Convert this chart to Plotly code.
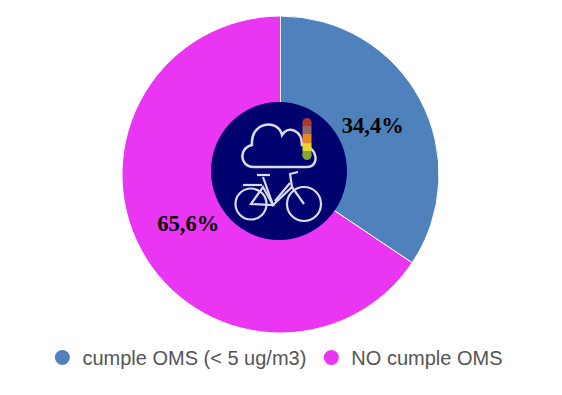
import plotly.graph_objects as go

labels = ["cumple OMS (< 5 ug/m3)", "NO cumple OMS"]
values = [34.4, 65.6]
colors = ["#4F81BD", "#EA36F2"]

W, H = 562, 395
cx, cy, r = 280.5, 174.5, 158.5

fig = go.Figure()
fig.add_trace(go.Pie(
    labels=labels, values=values, sort=False, direction="clockwise", rotation=0,
    hole=0.32, showlegend=False,
    domain=dict(x=[(cx - r) / W, (cx + r) / W], y=[1 - (cy + r) / H, 1 - (cy - r) / H]),
    marker=dict(colors=colors, line=dict(color="#FFFFFF", width=1)),
    texttemplate="%{value:.1f}%", textposition="inside", insidetextorientation="horizontal",
    textfont=dict(family="Liberation Serif", size=22.5, color="#000000", weight="bold"),
    hoverinfo="label+percent",
))
for name, col in zip(labels, colors):
    fig.add_trace(go.Scatter(
        x=[None], y=[None], mode="markers", name=name,
        marker=dict(symbol="circle", size=15, color=col),
    ))

# Decorative centre icon, in pixel units of the hidden axes
LINE = dict(color="#DADAEE", width=2.2)
shapes = [dict(type="circle", x0=211, x1=347, y0=102, y1=240, fillcolor="#00006E", line=dict(width=0))]
shapes.append(dict(type="path", line=dict(color="#DADAEE", width=2.5),
    path="M253,167 C240,167 238,148 252,145 C250,122 278,118 282,135 C288,125 302,130 302,145 C318,146 320,167 307,167 Z"))
shapes.append(dict(type="circle", x0=302.5, x1=311.5, y0=118, y1=127, fillcolor="#B5342A", line=dict(width=0)))
shapes.append(dict(type="circle", x0=302.5, x1=311.5, y0=151, y1=160, fillcolor="#7FA832", line=dict(width=0)))
for y0, y1, c in [(122, 126, "#B5342A"), (126, 134, "#8C6A6A"), (134, 143, "#E8862A"),
                  (143, 151, "#E8D42A"), (151, 156, "#7FA832")]:
    shapes.append(dict(type="rect", x0=302.5, x1=311.5, y0=y0, y1=y1, fillcolor=c, line=dict(width=0)))
for wx, wy, wr in [(251, 204, 15.5), (304, 204, 17)]:
    shapes.append(dict(type="circle", x0=wx - wr, x1=wx + wr, y0=wy - wr, y1=wy + wr, line=LINE))
for p in [
    "M251,204 L263,187 L273,205 Z",
    "M263,177 L273,205 L292,187 L304,204",
    "M290,183 L275,201",
    "M292,187 L290,174 L298,172",
    "M257,175 L270,175",
    "M243,185 L262,185",
    "M269,207 A4,4 0 1 0 277,204 A4,4 0 1 0 269,207",
]:
    shapes.append(dict(type="path", path=p, line=LINE))

fig.update_layout(
    width=W, height=H, margin=dict(l=0, r=0, t=0, b=0),
    paper_bgcolor="#FFFFFF", plot_bgcolor="rgba(0,0,0,0)",
    separators=",.",
    xaxis=dict(visible=False, range=[0, W], domain=[0, 1], fixedrange=True),
    yaxis=dict(visible=False, range=[H, 0], domain=[0, 1], fixedrange=True),
    shapes=[dict(s, xref="x", yref="y", layer="above") for s in shapes],
    legend=dict(orientation="h", x=0.49, xanchor="center", y=1 - 357.5 / H, yanchor="middle",
                font=dict(family="Liberation Sans", size=20, color="#555555"),
                itemsizing="trace", itemwidth=30, bgcolor="rgba(0,0,0,0)"),
)
fig.write_html("out.html", config=dict(displayModeBar=False),
               post_script="document.body.style.margin='0';document.documentElement.style.overflow='hidden';")
